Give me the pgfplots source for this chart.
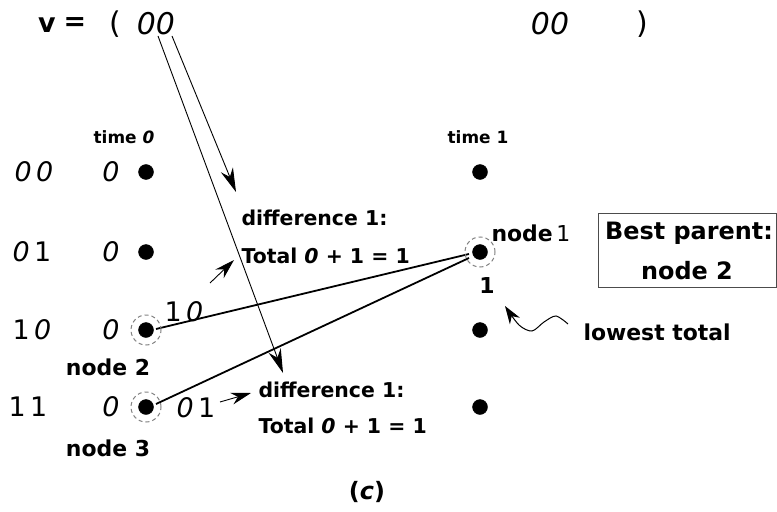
\documentclass[border=0pt]{standalone}
\usepackage{pgfplots}
\pgfplotsset{compat=1.18}
\usepackage{fontspec}
\setmainfont{DejaVu Sans}
\usetikzlibrary{arrows.meta}
\definecolor{ring}{RGB}{130,130,130}
\newcommand{\fb}{\bfseries\fontsize{22}{25}\selectfont}
\newcommand{\fd}{\bfseries\fontsize{20.5}{24}\selectfont}
\newcommand{\fs}{\bfseries\fontsize{17}{19}\selectfont}
\newcommand{\fbig}{\bfseries\fontsize{24}{27}\selectfont}
\newcommand{\fhuge}{\bfseries\fontsize{27}{30}\selectfont}
\newcommand{\fst}{\fontsize{27}{30}\selectfont}
\newcommand{\ftop}{\fontsize{30}{33}\selectfont}
\newcommand{\z}{\textit{0}}
\begin{document}
\begin{tikzpicture}
\begin{axis}[at={(0,0)}, anchor=south west, scale only axis,
  width=777bp, height=512bp, xmin=0, xmax=777, ymin=0, ymax=512,
  y dir=reverse, hide axis, clip=false]
% trellis states
\addplot[only marks, mark=*, mark size=7.5bp, black] table {
x y
146 172
146 252
146 330
146 407
480 172
480 252
480 330
480 407
};
% branches into node 1
\addplot[black, line width=1.8bp] coordinates {(156,329) (469,254)};
\addplot[black, line width=1.8bp] coordinates {(156,404) (469,258)};
% long thin arrows from received pair
\addplot[black, line width=0.9bp, -{Stealth[length=24bp,width=13bp]}] coordinates {(158,36) (283,373)};
\addplot[black, line width=0.9bp, -{Stealth[length=24bp,width=13bp]}] coordinates {(172,36) (236,192)};
% short arrows
\addplot[black, line width=0.9bp, -{Stealth[length=20bp,width=12bp]}] coordinates {(210,283) (234,260)};
\addplot[black, line width=0.9bp, -{Stealth[length=20bp,width=12bp]}] coordinates {(220,402) (251,393)};
% wavy arrow
\addplot[black, line width=1bp, smooth, -{Stealth[length=18bp,width=12bp]}] coordinates {(568,324) (556,316) (544,322) (532,331) (519,325) (505,306)};
% dashed rings
\draw[ring, dash pattern=on 4bp off 3bp, line width=1bp] (146,330) circle[radius=15bp];
\draw[ring, dash pattern=on 4bp off 3bp, line width=1bp] (146,407) circle[radius=15bp];
\draw[ring, dash pattern=on 4bp off 3bp, line width=1bp] (480,252) circle[radius=15bp];
% box
\draw[black!70, line width=0.8bp] (598,213) rectangle (776.5,287);
% top line
\node[font=\fhuge] at (47,25) {v};
\node[font=\fhuge] at (75,24) {=};
\node[font=\ftop] at (115,24) {(};
\node[font=\ftop] at (156,24) {\z\z};
\node[font=\ftop] at (550,24) {\z\z};
\node[font=\ftop] at (642,24) {)};
% time labels
\node[font=\fs] at (124,137) {time \z};
\node[font=\fs] at (478,137) {time 1};
% state labels
\node[font=\fst] at (34,172) {\z\,\z};
\node[font=\fst] at (32,252) {\z\,1};
\node[font=\fst] at (32,330) {1\,\z};
\node[font=\fst] at (28,407) {1\,1};
\node[font=\fst] at (111,172) {\z};
\node[font=\fst] at (111,252) {\z};
\node[font=\fst] at (111,330) {\z};
\node[font=\fst] at (111,407) {\z};
\node[font=\fb] at (108,367) {node 2};
\node[font=\fb] at (108,448) {node 3};
\node[font=\fst] at (184,312) {1\,\z};
\node[font=\fst] at (196,408) {\z\,1};
% difference texts
\node[font=\fd, anchor=west] at (238,218) {difference 1:};
\node[font=\fd, anchor=west] at (238,256) {Total \z{} + 1 = 1};
\node[font=\fd, anchor=west] at (255,390) {difference 1:};
\node[font=\fd, anchor=west] at (255,426) {Total \z{} + 1 = 1};
% node 1
\node[font=\fb, anchor=west] at (488,233) {node\,{\mdseries 1}};
\node[font=\fb] at (487,286) {1};
\node[font=\fbig] at (689,233) {Best parent:};
\node[font=\fbig] at (687,271) {node 2};
\node[font=\fb, anchor=west] at (580,332) {lowest total};
\node[font=\fbig] at (367,492) {(\textit{c})};
\end{axis}
\pgfresetboundingbox
\path[use as bounding box] (0,0) rectangle (777bp,512bp);
\end{tikzpicture}
\end{document}
